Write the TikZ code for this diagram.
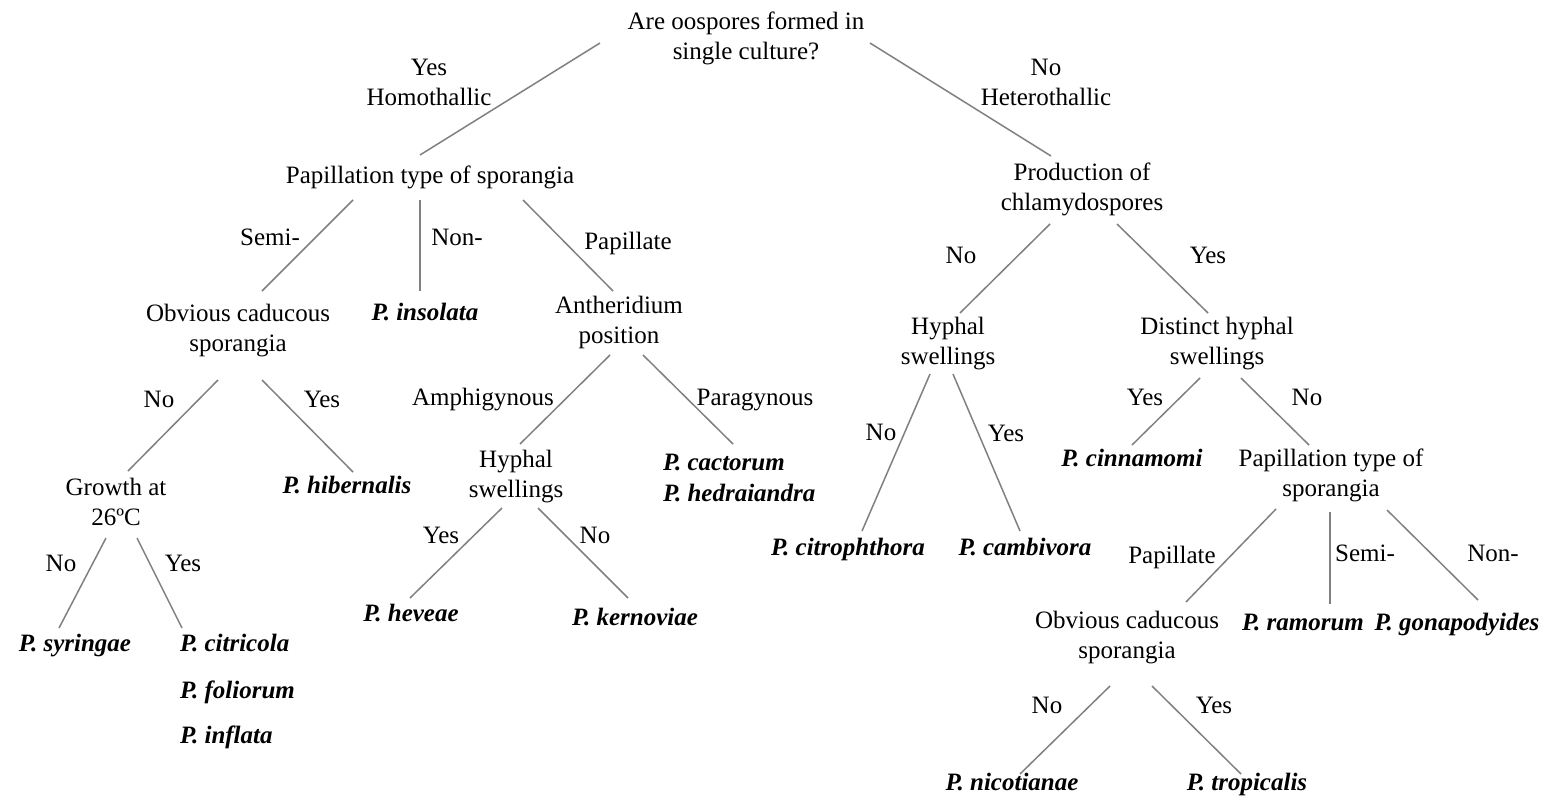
\documentclass[tikz,border=0pt]{standalone}
\usepackage{fontspec}
\setmainfont{LiberationSerif}[Extension=.ttf,UprightFont=*-Regular,BoldFont=*-Bold,ItalicFont=*-Italic,BoldItalicFont=*-BoldItalic]
\begin{document}
\begin{tikzpicture}[x=1pt,y=-1pt,
  every node/.style={inner sep=0pt,outer sep=0pt,font=\fontsize{25}{30}\selectfont},
  q/.style={align=center},
  one/.style={text height=17pt,text depth=5pt},
  sp/.style={one,font=\fontsize{25}{30}\selectfont\bfseries\itshape},
  lab/.style={one},
  edge/.style={draw=black!50,line width=1.5pt}]
\useasboundingbox (0,0) rectangle (1547,795);
% ---------- nodes ----------
\node[q] (root) at (746,38) {Are oospores formed in\\single culture?};
\node[q] (hom) at (429,82) {Yes\\Homothallic};
\node[q] (het) at (1046,82) {No\\Heterothallic};
\node[one] (pap1) at (430,177) {Papillation type of sporangia};
\node[q] (prod) at (1082,189) {Production of\\chlamydospores};
\node[q] (occ1) at (238,331) {Obvious caducous\\sporangia};
\node[sp] (insolata) at (425,314) {P. insolata};
\node[q] (anth) at (619,322) {Antheridium\\position};
\node[q] (grow) at (116,502) {Growth at\\26ºC};
\node[sp] (hibernalis) at (347,487) {P. hibernalis};
\node[q] (hyph1) at (516,477) {Hyphal\\swellings};
\node[sp,anchor=west] (cactorum) at (663,464) {P. cactorum};
\node[sp,anchor=west] (hedraiandra) at (663,495) {P. hedraiandra};
\node[sp] (syringae) at (75,645) {P. syringae};
\node[sp,anchor=west] (citricola) at (180,645) {P. citricola};
\node[sp,anchor=west] (foliorum) at (180,692) {P. foliorum};
\node[sp,anchor=west] (inflata) at (180,737) {P. inflata};
\node[sp] (heveae) at (411,615) {P. heveae};
\node[sp] (kernoviae) at (635,619) {P. kernoviae};
\node[q] (hyph2) at (948,344) {Hyphal\\swellings};
\node[q] (dist) at (1217,344) {Distinct hyphal\\swellings};
\node[sp] (citrophthora) at (848,549) {P. citrophthora};
\node[sp] (cambivora) at (1025,549) {P. cambivora};
\node[sp] (cinnamomi) at (1132,460) {P. cinnamomi};
\node[q] (pap2) at (1331,475) {Papillation type of\\sporangia};
\node[q] (occ2) at (1127,638) {Obvious caducous\\sporangia};
\node[sp] (ramorum) at (1303,624) {P. ramorum};
\node[sp] (gonapodyides) at (1457,624) {P. gonapodyides};
\node[sp] (nicotianae) at (1012,784) {P. nicotianae};
\node[sp] (tropicalis) at (1247,784) {P. tropicalis};
% ---------- edge labels ----------
\node[lab] (l1) at (270,239) {Semi-};
\node[lab] (l2) at (457,239) {Non-};
\node[lab] (l3) at (628,243) {Papillate};
\node[lab] (l4) at (159,401) {No};
\node[lab] (l5) at (322,401) {Yes};
\node[lab] (l6) at (61,565) {No};
\node[lab] (l7) at (183,565) {Yes};
\node[lab] (l8) at (483,399) {Amphigynous};
\node[lab] (l9) at (755,399) {Paragynous};
\node[lab] (l10) at (441,537) {Yes};
\node[lab] (l11) at (595,537) {No};
\node[lab] (l12) at (961,257) {No};
\node[lab] (l13) at (1208,257) {Yes};
\node[lab] (l14) at (881,434) {No};
\node[lab] (l15) at (1006,435) {Yes};
\node[lab] (l16) at (1145,399) {Yes};
\node[lab] (l17) at (1307,399) {No};
\node[lab] (l18) at (1172,557) {Papillate};
\node[lab] (l19) at (1365,555) {Semi-};
\node[lab] (l20) at (1493,555) {Non-};
\node[lab] (l21) at (1047,707) {No};
\node[lab] (l22) at (1214,707) {Yes};
% ---------- connector ends ----------
\foreach \n/\x/\y in {
  r1/600/43, r1e/420/155, r2/870/43, r2e/1051/156,
  a1/353/200, a1e/262/291, a2/420/200, a2e/420/291, a3/523/200, a3e/613/291,
  b1/218/380, b1e/128/471, b2/262/380, b2e/353/472,
  c1/106/538, c1e/59/628, c2/137/538, c2e/182/628,
  d1/610/355, d1e/520/444, d2/643/355, d2e/733/444,
  e1/502/508, e1e/410/598, e2/538/508, e2e/628/598,
  f1/1050/224, f1e/960/313, f2/1117/224, f2e/1208/313,
  g1/930/374, g1e/862/531, g2/953/374, g2e/1020/531,
  h1/1200/378, h1e/1132/445, h2/1241/378, h2e/1309/445,
  i1/1276/509, i1e/1186/602, i2/1330/512, i2e/1330/604, i3/1387/510, i3e/1478/600,
  j1/1110/686, j1e/1020/774, j2/1152/686, j2e/1241/774}
  {\coordinate (\n) at (\x,\y);}
% ---------- connectors ----------
\foreach \s in {r1,r2,a1,a2,a3,b1,b2,c1,c2,d1,d2,e1,e2,f1,f2,g1,g2,h1,h2,i1,i2,i3,j1,j2}
  {\draw[edge] (\s) -- (\s e);}
\end{tikzpicture}
\end{document}
